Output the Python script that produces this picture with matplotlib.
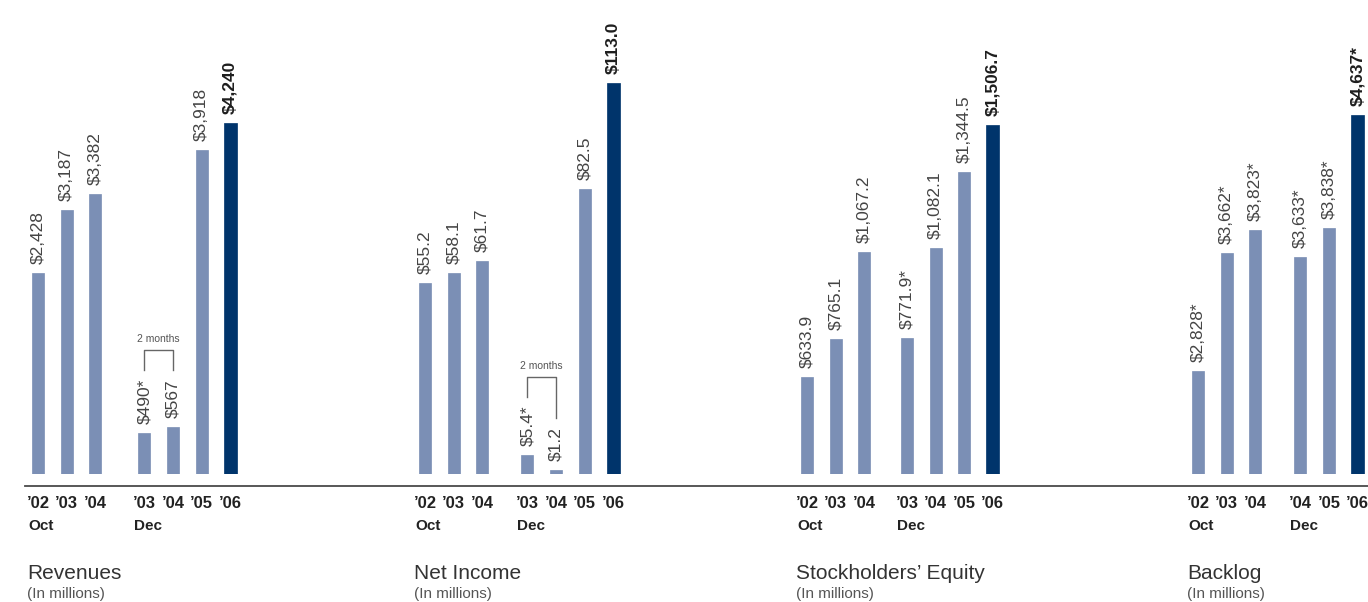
import matplotlib
matplotlib.use('Agg')
import matplotlib.pyplot as plt
import matplotlib.transforms as mtransforms
from matplotlib.lines import Line2D

plt.rcParams['font.family'] = ['Liberation Sans', 'DejaVu Sans']

# data
titles = ['Revenues', 'Net Income', 'Stockholders\u2019 Equity', 'Backlog']
subtitle = '(In millions)'

rev_years = ['\u201902', '\u201903', '\u201904', '\u201903', '\u201904', '\u201905', '\u201906']
backlog_years = ['\u201902', '\u201903', '\u201904', '\u201904', '\u201905', '\u201906']

revenues = [2428, 3187, 3382, 490, 567, 3918, 4240]
net_income = [55.2, 58.1, 61.7, 5.4, 1.2, 82.5, 113.0]
equity = [633.9, 765.1, 1067.2, 771.9, 1082.1, 1344.5, 1506.7]
backlog = [2828, 3662, 3823, 3633, 3838, 4637]

rev_star = [False, False, False, True, False, False, False]
net_star = [False, False, False, True, False, False, False]
equity_star = [False, False, False, True, False, False, False]
backlog_star = [True, True, True, True, True, True]

decimals = [0, 1, 1, 0]
two_month = [(3, 4), (3, 4), None, None]

# layout (pixels) and scales
W, H = 1368, 602
UNIT = 28.6
BASE = 474
first_bar_px = [38, 425, 807, 1198]
group_gap = [3.72, 3.58, 3.5, 3.58]
ylims = [(0, 5726), (0, 137.0), (300, 1939), (2100, 5450)]

LIGHT = '#7b8fb5'
DARK = '#00346b'

fig = plt.figure(figsize=(W / 100, H / 100), dpi=100)
fig.add_artist(Line2D([25 / W, 1], [1 - 486 / H] * 2, transform=fig.transFigure,
                      color='#4a4a4a', lw=1.3))

series = [revenues, net_income, equity, backlog]
stars = [rev_star, net_star, equity_star, backlog_star]
years = [rev_years, rev_years, rev_years, backlog_years]

later = []
for i in range(4):
    vals = series[i]
    n = len(vals)
    xs = [0, 1, 2] + [group_gap[i] + k for k in range(n - 3)]
    left = (first_bar_px[i] - UNIT) / W
    ax = fig.add_axes([left, (H - BASE) / H, 8.2 * UNIT / W, BASE / H])
    ax.set_xlim(-1, 7.2)
    ax.set_ylim(*ylims[i])
    ax.axis('off')

    colors = [LIGHT] * (n - 1) + [DARK]
    widths = [0.42] * (n - 1) + [0.46]
    ax.bar(xs, vals, width=widths, color=colors, edgecolor=colors, linewidth=0.5)

    labels = []
    for j, (x, v) in enumerate(zip(xs, vals)):
        s = f'${v:,.{decimals[i]}f}' + ('*' if stars[i][j] else '')
        last = j == n - 1
        t = ax.annotate(s, xy=(x, v), xytext=(0, 9), textcoords='offset pixels',
                        rotation=90, ha='center', va='bottom', fontsize=12.5,
                        fontweight='bold' if last else 'normal',
                        color='#1e1e1e' if last else '#444444', annotation_clip=False)
        labels.append(t)
        ax.annotate(years[i][j], xy=(x, 0), xycoords=('data', 'axes fraction'),
                    xytext=(0, -29), textcoords='offset pixels', ha='center', va='center',
                    fontsize=12, fontweight='bold', color='#222222', annotation_clip=False)

    for k, word in [(0, 'Oct'), (3, 'Dec')]:
        ax.annotate(word, xy=(xs[k], 0), xycoords=('data', 'axes fraction'),
                    xytext=(-10, -52), textcoords='offset pixels', ha='left', va='center',
                    fontsize=11, fontweight='bold', color='#222222', annotation_clip=False)

    ax.annotate(titles[i], xy=(0, 0), xycoords=('data', 'axes fraction'),
                xytext=(-11, -105), textcoords='offset pixels', ha='left', va='baseline',
                fontsize=15, color='#333333', annotation_clip=False)
    ax.annotate(subtitle, xy=(0, 0), xycoords=('data', 'axes fraction'),
                xytext=(-11, -124), textcoords='offset pixels', ha='left', va='baseline',
                fontsize=11, color='#555555', annotation_clip=False)

    if two_month[i]:
        later.append((ax, xs, labels, two_month[i]))

# bracket over the two-month transition period, placed above its labels
fig.canvas.draw()
renderer = fig.canvas.get_renderer()
for ax, xs, labels, (a, b) in later:
    trans = mtransforms.blended_transform_factory(ax.transData, mtransforms.IdentityTransform())
    end_a = labels[a].get_window_extent(renderer).y1 + 9
    end_b = labels[b].get_window_extent(renderer).y1 + 9
    top = max(end_a, end_b) + 20
    ax.add_line(Line2D([xs[a], xs[a], xs[b], xs[b]], [end_a, top, top, end_b],
                       transform=trans, clip_on=False, color='#666666', lw=1))
    ax.text((xs[a] + xs[b]) / 2, top + 11, '2 months', transform=trans, ha='center',
            va='center', fontsize=7.5, color='#555555', clip_on=False)

fig.savefig('out.png', dpi=100)
